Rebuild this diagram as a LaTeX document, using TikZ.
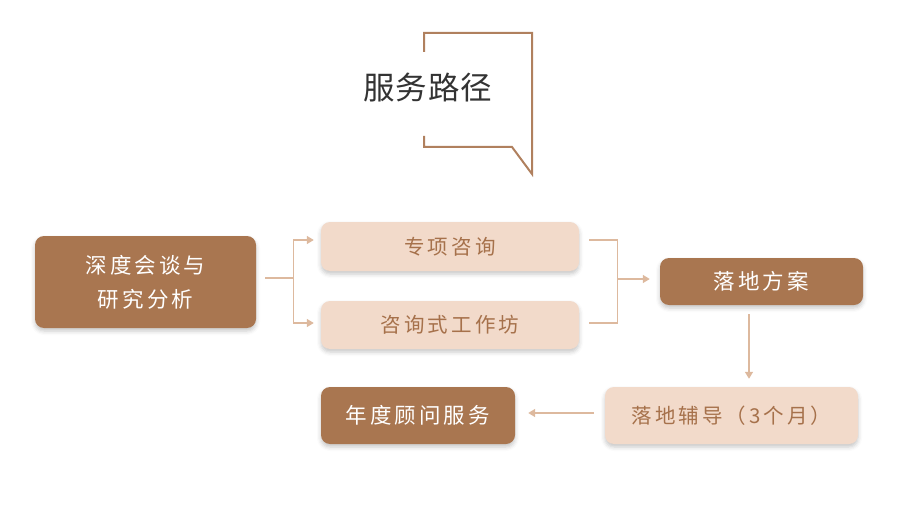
\documentclass[tikz,border=0pt]{standalone}
\usepackage{fontspec}
\usetikzlibrary{arrows.meta,shadows.blur,calc}
\newfontfamily\cjk[LetterSpace=15]{Noto Sans CJK SC}
\newfontfamily\cjkdark[LetterSpace=14]{Noto Sans CJK SC}
\newfontfamily\cjktitle[LetterSpace=3]{Noto Sans CJK SC}
\definecolor{brown}{HTML}{A97650}
\definecolor{light}{HTML}{F2DACA}
\definecolor{lighttext}{HTML}{A6714B}
\definecolor{linec}{HTML}{DDB99E}
\definecolor{bubble}{HTML}{B0805E}
\definecolor{titlec}{HTML}{333333}
\tikzset{
  box/.style={rounded corners=9pt, inner sep=0pt, align=center,
    blur shadow={shadow xshift=0pt, shadow yshift=-3pt, shadow opacity=22, shadow blur radius=4pt}},
  darkbox/.style={box, fill=brown, text=white, font=\cjkdark\fontsize{21.5}{34}\selectfont},
  lightbox/.style={box, fill=light, text=lighttext, font=\cjk\fontsize{20.5}{34}\selectfont},
  conn/.style={draw=linec, line width=1.4pt},
  arr/.style={conn, -{Triangle[length=7pt,width=8pt]}},
}
\begin{document}
\begin{tikzpicture}[x=1pt,y=-1pt]
\useasboundingbox (0,0) rectangle (900,516);
% speech bubble
\draw[bubble, line width=2pt] (424,52) -- (424,33) -- (532,33) -- (532,174) -- (512,147) -- (424,147) -- (424,136);
\node[font=\cjktitle\fontsize{31.5}{36}\selectfont, text=titlec, anchor=center] (title) at (428,88) {服务路径};
% nodes
\node[darkbox, minimum width=221pt, minimum height=92pt] (n1) at (145.5,282) {深度会谈与\\研究分析};
\node[lightbox, minimum width=258pt, minimum height=49pt] (n2) at (450,246.5) {专项咨询};
\node[lightbox, minimum width=258pt, minimum height=48pt] (n3) at (450,325) {咨询式工作坊};
\node[darkbox, minimum width=203pt, minimum height=47pt] (n4) at (761.5,281.5) {落地方案};
\node[lightbox, minimum width=253pt, minimum height=57pt] (n5) at (731.5,415.5) {落地辅导（3个月）};
\node[darkbox, minimum width=194pt, minimum height=57pt] (n6) at (418,415.5) {年度顾问服务};
% fork from n1
\coordinate (s1) at ($(n1.east)+(9,-4)$);
\coordinate (f1) at ($(s1)+(28,0)$);
\coordinate (t2) at ($(n2.west)+(-7,-6.5)$);
\coordinate (t3) at ($(n3.west)+(-7,-2)$);
\draw[conn] (s1) -- (f1);
\draw[arr] (f1) |- (t2);
\draw[arr] (f1) |- (t3);
% bracket to n4
\coordinate (b2) at ($(n2.east)+(10,-6.5)$);
\coordinate (b3) at ($(n3.east)+(10,-2)$);
\coordinate (bm) at ($(b2)!0.47!(b3)+(28,0)$);
\coordinate (t4) at ($(n4.west)+(-10,-2.5)$);
\draw[conn] (b2) -- ++(28,0) |- (b3);
\draw[arr] (bm) -- (t4 |- bm);
% n4 down to n5
\coordinate (d1) at ($(n4.south)+(-12.5,9)$);
\coordinate (d2) at ($(n5.north)+(17.5,-8)$);
\draw[arr] (d1) -- (d1 |- d2);
% n5 to n6
\coordinate (l1) at ($(n5.west)+(-11,-2.5)$);
\coordinate (l2) at ($(n6.east)+(13,-2.5)$);
\draw[arr] (l1) -- (l2);
\end{tikzpicture}
\end{document}
